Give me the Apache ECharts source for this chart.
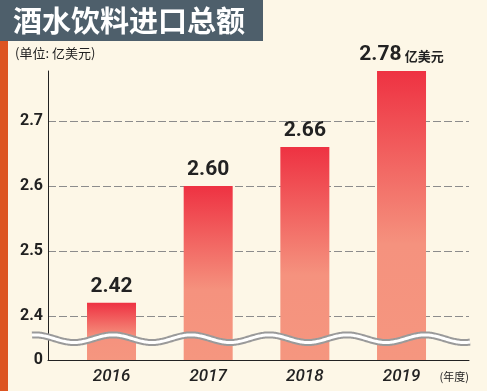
<!DOCTYPE html>
<html>
<head>
<meta charset="utf-8">
<script src="https://cdn.jsdelivr.net/npm/echarts@6/dist/echarts.min.js"></script>
<style>
html,body{margin:0;padding:0;background:#fdf7e7;}
#chart{width:487px;height:391px;}
</style>
</head>
<body>
<div id="chart"></div>
<script>
// ---- data ----
const categories = ['2016', '2017', '2018', '2019'];
const values = [2.42, 2.60, 2.66, 2.78];
const yTickLabels = ['0', '2.4', '2.5', '2.6', '2.7'];
const titleText = '酒水饮料进口总额';
const unitText = '(单位: 亿美元)';
const unitSuffix = '亿美元';
const xAxisName = '(年度)';

// ---- chart ----
const chart = echarts.init(document.getElementById('chart'), null, {renderer: 'canvas'});
const Y_MIN = 2.332, Y_MAX = 2.777;
const X_MIN = 2015.343, X_MAX = 2019.698;
const narrow = "Roboto, sans-serif";
const cjk = "'Noto Sans CJK SC', sans-serif";

const wavePts = [];
for (let x = 32; x <= 470; x += 1) {
  wavePts.push([x, 338.7 - 3.8 * Math.cos(2 * Math.PI * (x - 35) / 78)]);
}

const option = {
  backgroundColor: '#fdf7e7',
  animation: false,
  title: [
    {
      text: titleText, left: 13, top: 6, padding: 0,
      textStyle: {color: '#ffffff', fontSize: 29, fontWeight: 'bold', fontFamily: cjk}
    },
    {
      text: unitText, left: 15, top: 47, padding: 0,
      textStyle: {color: '#222', fontSize: 13, fontWeight: 'normal', fontFamily: cjk}
    }
  ],
  graphic: [
    {type: 'rect', shape: {x: 0, y: 0, width: 263, height: 41}, style: {fill: '#4e5f6b'}, z: -10, silent: true},
    {type: 'rect', shape: {x: 0, y: 41, width: 8, height: 350}, style: {fill: '#dd5522'}, z: -10, silent: true},
    {type: 'polyline', shape: {points: wavePts}, style: {stroke: '#9a9a9a', lineWidth: 7, fill: null}, z: 100, silent: true},
    {type: 'polyline', shape: {points: wavePts}, style: {stroke: '#ffffff', lineWidth: 3, fill: null}, z: 101, silent: true}
  ],
  grid: {left: 48, right: 18, top: 71, bottom: 31, containLabel: false},
  xAxis: {
    type: 'value', min: X_MIN, max: X_MAX,
    axisLine: {show: true, lineStyle: {color: '#222', width: 1}},
    axisTick: {show: false},
    splitLine: {show: false},
    axisLabel: {
      showMinLabel: false, showMaxLabel: false, margin: 8,
      color: '#222', fontSize: 17, fontStyle: 'italic', fontWeight: 500, fontFamily: narrow,
      formatter: v => {
        const i = categories.indexOf(String(Math.round(v)));
        return (Math.abs(v - Math.round(v)) < 1e-6 && i >= 0) ? categories[i] : '';
      }
    },
    name: xAxisName, nameLocation: 'end', nameGap: 0,
    nameTextStyle: {color: '#222', fontSize: 11, fontFamily: cjk, align: 'right', verticalAlign: 'top', padding: [11, 0, 0, 0]}
  },
  yAxis: {
    type: 'value', min: Y_MIN, max: Y_MAX,
    axisLine: {show: true, lineStyle: {color: '#222', width: 1}},
    axisTick: {show: false},
    splitLine: {show: true, showMinLine: false, showMaxLine: false, lineStyle: {color: '#8c8c8c', type: [8, 3], width: 1}},
    axisLabel: {
      showMaxLabel: false, margin: 5,
      color: '#222', fontSize: 16, fontWeight: 'bold', fontFamily: narrow,
      formatter: v => {
        if (Math.abs(v - Y_MIN) < 1e-6) return yTickLabels[0];
        const s = v.toFixed(1);
        return yTickLabels.indexOf(s) > 0 && Math.abs(v - parseFloat(s)) < 1e-6 ? s : '';
      }
    }
  },
  series: [{
    type: 'bar',
    barWidth: 49,
    clip: true,
    z: 1,
    data: categories.map((c, i) => [Number(c), values[i]]),
    itemStyle: {
      color: new echarts.graphic.LinearGradient(0, 0, 0, 1, [
        {offset: 0, color: '#ee3242'},
        {offset: 0.6, color: '#f5927e'},
        {offset: 1, color: '#f5967f'}
      ])
    },
    label: {
      show: true, position: 'top', distance: 6,
      formatter: p => {
        const v = values[p.dataIndex].toFixed(2);
        return p.dataIndex === values.length - 1 ? `{v|${v}} {u|${unitSuffix}}` : `{v|${v}}`;
      },
      rich: {
        v: {color: '#222', fontSize: 21, fontWeight: 'bold', fontFamily: narrow},
        u: {color: '#222', fontSize: 13, fontWeight: 'bold', fontFamily: cjk, padding: [3, 0, 0, 0]}
      }
    }
  }]
};
chart.setOption(option);
</script>
</body>
</html>
